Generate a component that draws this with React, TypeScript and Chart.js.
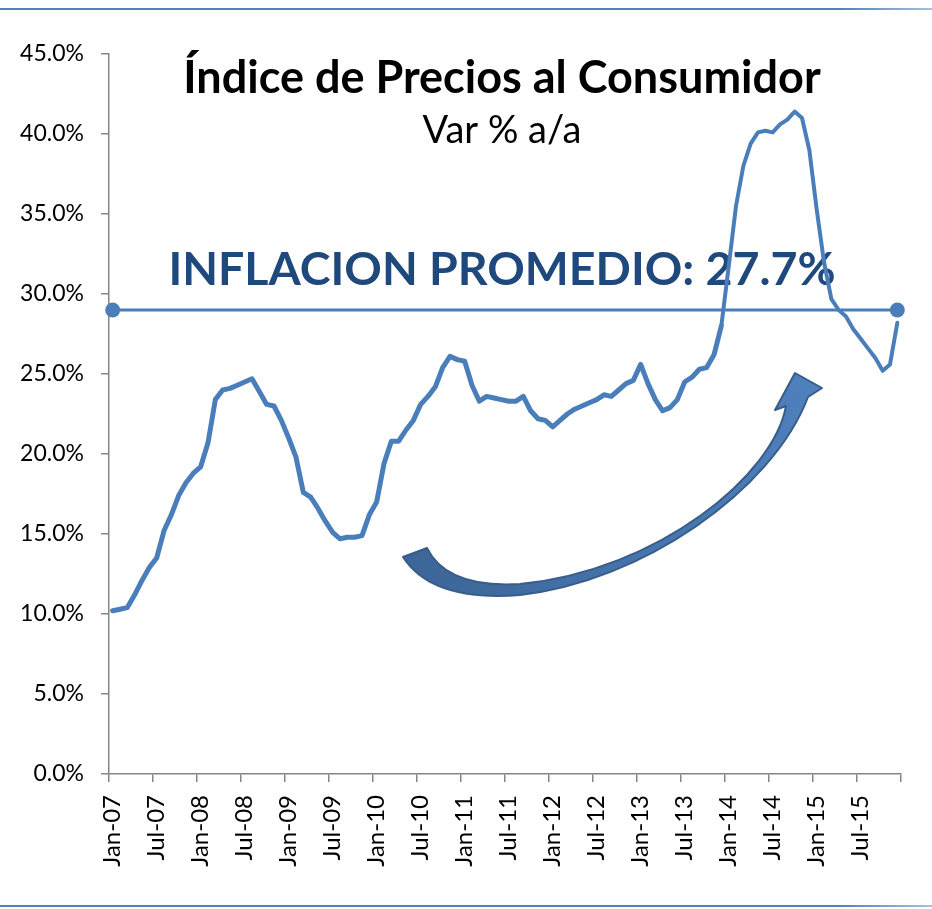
import { useEffect, useRef } from 'react';
import { Chart, registerables } from 'chart.js';

Chart.register(...registerables);

const MONTHS = ['Jan', 'Feb', 'Mar', 'Apr', 'May', 'Jun', 'Jul', 'Aug', 'Sep', 'Oct', 'Nov', 'Dec'];
const YEARS = ['07', '08', '09', '10', '11', '12', '13', '14', '15'];
const CATEGORIES = YEARS.flatMap((y) => MONTHS.map((m) => `${m}-${y}`));

// Índice de Precios al Consumidor, var % a/a (monthly, Jan-07 .. Dec-15)
const IPC = [
  10.2, 10.3, 10.4, 11.2, 12.1, 12.9, 13.5, 15.2, 16.2, 17.4, 18.2, 18.8,
  19.2, 20.7, 23.4, 24.0, 24.1, 24.3, 24.5, 24.7, 23.9, 23.1, 23.0, 22.1,
  21.0, 19.8, 17.6, 17.3, 16.6, 15.8, 15.1, 14.7, 14.8, 14.8, 14.9, 16.2,
  17.0, 19.4, 20.8, 20.8, 21.5, 22.1, 23.1, 23.6, 24.2, 25.4, 26.1, 25.9,
  25.8, 24.3, 23.3, 23.6, 23.5, 23.4, 23.3, 23.3, 23.6, 22.7, 22.2, 22.1,
  21.7, 22.1, 22.5, 22.8, 23.0, 23.2, 23.4, 23.7, 23.6, 24.0, 24.4, 24.6,
  25.6, 24.4, 23.4, 22.7, 22.9, 23.4, 24.5, 24.8, 25.3, 25.4, 26.2, 28.0,
  31.7, 35.5, 38.0, 39.4, 40.1, 40.2, 40.1, 40.6, 40.9, 41.4, 41.0, 39.0,
  35.3, 32.0, 29.7, 29.0, 28.6, 27.8, 27.2, 26.6, 26.0, 25.2, 25.6, 28.2,
];

const AVERAGE_LINE = 29.0;
const AVERAGE_SERIES = CATEGORIES.map((_, i) => (i === 0 || i === CATEGORIES.length - 1 ? AVERAGE_LINE : null));

const Y_MIN = 0;
const Y_MAX = 45;
const Y_STEP = 5;
const X_LABEL_EVERY = 6;

const TITLE = 'Índice de Precios al Consumidor';
const SUBTITLE = 'Var % a/a';
const ANNOTATION = 'INFLACION PROMEDIO: 27.7%';

const LINE_COLOR = '#4A7EBB';
const AXIS_COLOR = '#868686';
const FONT = 'Lato, "Open Sans", sans-serif';

const textPlugin = {
  id: 'texts',
  beforeDatasetsDraw(chart: any) {
    const { ctx, chartArea } = chart;
    const cx = (chartArea.left + chartArea.right) / 2 - 3;
    ctx.save();
    ctx.textAlign = 'center';
    ctx.textBaseline = 'alphabetic';
    ctx.fillStyle = '#000000';
    ctx.font = `bold 45px ${FONT}`;
    ctx.fillText(TITLE, cx, 93);
    ctx.font = `38px ${FONT}`;
    ctx.fillText(SUBTITLE, cx, 143);
    ctx.fillStyle = '#1F497D';
    ctx.font = `bold 46.5px ${FONT}`;
    ctx.fillText(ANNOTATION, cx, 285);
    ctx.restore();
  },
};

const arrowPlugin = {
  id: 'arrow',
  afterDatasetsDraw(chart: any) {
    const { ctx } = chart;
    ctx.save();
    const g = ctx.createLinearGradient(400, 560, 820, 380);
    g.addColorStop(0, '#3D6697');
    g.addColorStop(0.5, '#4674AD');
    g.addColorStop(1, '#4F81BD');
    ctx.beginPath();
    ctx.moveTo(403, 557);
    ctx.bezierCurveTo(425, 591, 470, 599, 520, 595);
    ctx.bezierCurveTo(640, 582, 772, 492, 808, 397);
    ctx.lineTo(822, 388);
    ctx.lineTo(795, 373);
    ctx.lineTo(775, 410);
    ctx.lineTo(786, 406);
    ctx.bezierCurveTo(774, 474, 660, 570, 520, 584);
    ctx.bezierCurveTo(470, 587, 440, 575, 427, 548);
    ctx.closePath();
    ctx.fillStyle = g;
    ctx.fill();
    ctx.lineJoin = 'round';
    ctx.lineWidth = 2;
    ctx.strokeStyle = '#385D8A';
    ctx.stroke();
    ctx.restore();
  },
};

export default function App() {
  const canvasRef = useRef<HTMLCanvasElement | null>(null);

  useEffect(() => {
    let chart: Chart | null = null;
    let cancelled = false;
    const build = () => {
      if (cancelled || !canvasRef.current) return;
      chart = new Chart(canvasRef.current, {
        type: 'line',
        data: {
          labels: CATEGORIES,
          datasets: [
            {
              data: IPC,
              borderColor: LINE_COLOR,
              borderWidth: 5,
              pointRadius: 0,
              tension: 0,
              fill: false,
              borderJoinStyle: 'round',
              borderCapStyle: 'round',
              segment: {
                borderWidth: (c: any) => (c.p0DataIndex >= 83 ? 4 : 5),
              },
            },
            {
              data: AVERAGE_SERIES,
              borderColor: LINE_COLOR,
              backgroundColor: LINE_COLOR,
              borderWidth: 3,
              pointRadius: 7.5,
              pointBorderWidth: 0,
              pointBackgroundColor: LINE_COLOR,
              spanGaps: true,
              tension: 0,
              fill: false,
            },
          ],
        },
        options: {
          responsive: false,
          animation: false,
          devicePixelRatio: 1,
          layout: { padding: { top: 54, right: 31, left: 0, bottom: 0 } },
          plugins: {
            legend: { display: false },
            tooltip: { enabled: false },
            title: { display: false },
          },
          scales: {
            x: {
              type: 'category',
              offset: true,
              afterFit: (scale: any) => {
                scale.height = 135;
                scale.paddingLeft = 0;
                scale.paddingRight = 0;
              },
              grid: {
                offset: true,
                drawOnChartArea: false,
                drawTicks: true,
                tickLength: 8,
                lineWidth: 1.5,
                color: (c: any) =>
                  c.index === undefined || c.index % X_LABEL_EVERY === 0 ? AXIS_COLOR : 'rgba(0,0,0,0)',
              },
              border: { display: true, color: AXIS_COLOR, width: 1.5 },
              ticks: {
                autoSkip: false,
                maxRotation: 90,
                minRotation: 90,
                padding: 13,
                color: '#000000',
                font: { family: FONT, size: 24 },
                callback: (_v: any, i: number) => (i % X_LABEL_EVERY === 0 ? CATEGORIES[i] : ''),
              },
            },
            y: {
              min: Y_MIN,
              max: Y_MAX,
              afterFit: (scale: any) => {
                scale.width = 109;
                scale.paddingTop = 0;
                scale.paddingBottom = 0;
              },
              grid: {
                drawOnChartArea: false,
                drawTicks: true,
                tickLength: 8,
                lineWidth: 1.5,
                color: AXIS_COLOR,
              },
              border: { display: true, color: AXIS_COLOR, width: 1.5 },
              ticks: {
                stepSize: Y_STEP,
                padding: 17,
                color: '#000000',
                font: { family: FONT, size: 23 },
                callback: (v: any) => `${Number(v).toFixed(1)}%`,
              },
            },
          },
        },
        plugins: [textPlugin, arrowPlugin],
      });
    };
    const fontsReady = (document as any).fonts
      ? Promise.all([
          (document as any).fonts.load(`22px Lato`),
          (document as any).fonts.load(`bold 44px Lato`),
        ]).catch(() => null)
      : Promise.resolve(null);
    fontsReady.then(build);
    return () => {
      cancelled = true;
      if (chart) chart.destroy();
    };
  }, []);

  return (
    <div style={{ position: 'absolute', left: 0, top: 0, width: 932, height: 909, background: '#ffffff' }}>
      <div
        style={{
          position: 'absolute',
          left: 0,
          top: 8,
          width: 932,
          height: 2,
          background: 'linear-gradient(to right, #4F81BD 0%, #4F81BD 90%, #A7C0DE 100%)',
        }}
      />
      <canvas ref={canvasRef} width={932} height={909} style={{ position: 'absolute', left: 0, top: 0 }} />
      <div
        style={{
          position: 'absolute',
          left: 0,
          top: 905,
          width: 932,
          height: 2,
          background: 'linear-gradient(to right, #4F81BD 0%, #4F81BD 90%, #A7C0DE 100%)',
        }}
      />
    </div>
  );
}
